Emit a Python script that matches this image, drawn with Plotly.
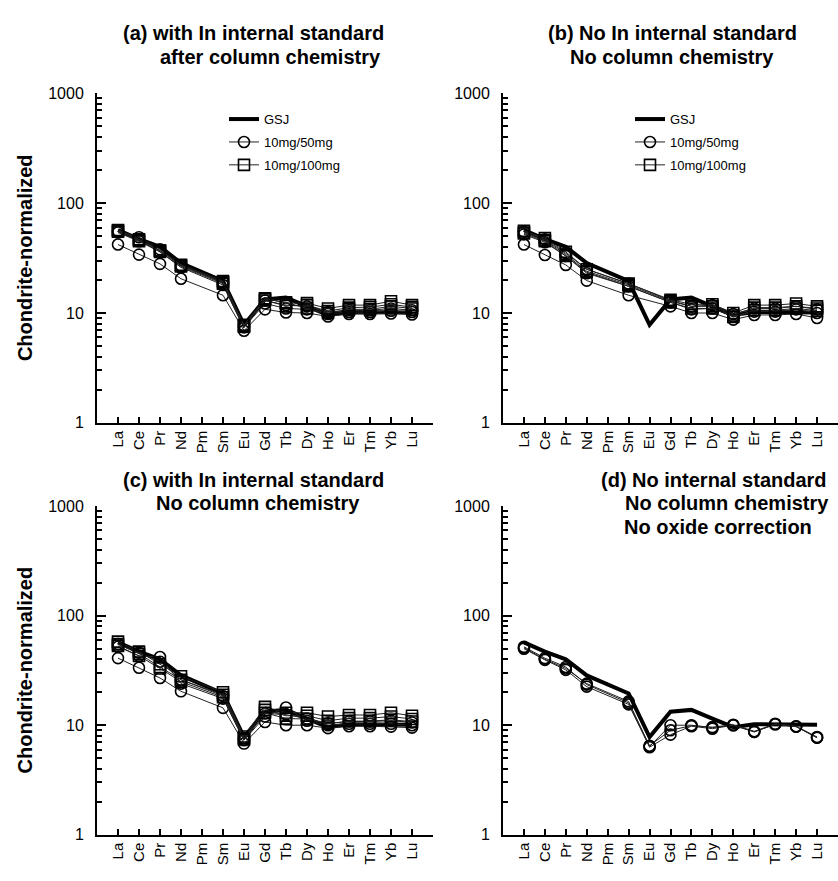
import plotly.graph_objects as go

elements = ["La", "Ce", "Pr", "Nd", "Pm", "Sm", "Eu", "Gd", "Tb", "Dy", "Ho", "Er", "Tm", "Yb", "Lu"]
xpos = list(range(1, 16))

gsj = [57, 47, 40, 28.5, None, 19.5, 7.8, 13.3, 13.8, 11.5, 9.6, 10.2, 10.2, 10.2, 10.1]

a_c1 = [42, 34, 28, 20.5, None, 14.5, 6.9, 10.8, 10.1, 10, 9.3, 9.8, 9.8, 9.9, 9.7]
a_c2 = [54, 45, 36, 26, None, 18, 7.4, 12.2, 11, 10.8, 9.8, 10.2, 10.2, 10.5, 10.2]
a_c3 = [56, 49, 38, 27, None, 19, 7.7, 13, 11.8, 11.5, 10.2, 10.6, 10.6, 11, 10.6]
a_s1 = [57, 47, 37, 27, None, 19, 7.6, 13.6, 12.3, 12.3, 11, 11.8, 11.8, 12.8, 11.8]
a_s2 = [55, 46, 36, 26.5, None, 18.5, 7.5, 13, 11.6, 11.8, 10.4, 11.2, 11.3, 12, 11.3]
a_s3 = [56, 45, 37, 27.5, None, 19.5, 7.8, 13.4, 12.5, 11, 10, 10.8, 10.8, 11.5, 11]

b_c1 = [42, 33.7, 27.4, 19.7, None, 14.5, None, 11.5, 10, 10, 8.7, 9.6, 9.6, 9.8, 9]
b_c2 = [52, 44, 33, 23, None, 17.5, None, 12.5, 10.8, 11, 9.3, 10.3, 10.3, 10.8, 10]
b_c3 = [55, 47, 35, 25, None, 18.5, None, 13, 11.5, 11.8, 9.8, 11, 11, 11.5, 10.8]
b_s1 = [56, 48, 36, 25, None, 18.5, None, 13.2, 12, 12, 10, 11.8, 11.8, 12.2, 11.5]
b_s2 = [54, 46, 34, 24, None, 18, None, 12.8, 11.5, 11.5, 9.5, 11.2, 11.2, 11.5, 11]
b_s3 = [53, 45, 33, 23.5, None, 17.5, None, 12.5, 11, 11, 9.2, 10.6, 10.6, 11, 10.5]

c_c1 = [41, 33.5, 27, 20.4, None, 14.4, 6.8, 10.7, 10, 10, 9.4, 9.8, 9.8, 9.7, 9.5]
c_c2 = [52, 43, 42, 24, None, 17.5, 7.3, 12, 14.5, 11, 10, 10.3, 10.3, 10.3, 10]
c_c3 = [55, 46, 38, 26, None, 18.5, 7.6, 12.8, 12.5, 11.5, 10.4, 10.8, 10.8, 11, 10.6]
c_s1 = [58, 47, 36, 28, None, 20, 7.9, 14.7, 13, 13, 12, 12.4, 12.4, 13, 12.2]
c_s2 = [55, 45, 34, 26, None, 19, 7.6, 13.8, 12.2, 12.2, 11, 11.6, 11.6, 12, 11.4]
c_s3 = [53, 43, 33, 25, None, 18, 7.4, 13, 11.5, 11.4, 10.3, 10.9, 10.9, 11.2, 10.8]

d_c1 = [51, 40, 33, 24, None, 16.5, 6.4, 10, 10, 9.5, 10, 8.7, 10.2, 9.7, 7.7]
d_c2 = [50, 39.5, 32, 22.5, None, 15.5, 6.3, 8.2, 9.8, 9.3, 10, 8.7, 10.2, 9.7, 7.7]
d_c3 = [52, 41, 34, 23.5, None, 16, 6.5, 9, 9.9, 9.6, 10.1, 8.8, 10.3, 9.8, 7.8]

y_ticks = [1, 10, 100, 1000]
y_tick_text = ["1", "10", "100", "1000"]
minor_vals = [m * 10 ** e for e in range(0, 3) for m in range(2, 10)]

W, H = 838, 881
FONT = "Liberation Sans, Arial, sans-serif"

fig = go.Figure()

panels = {
    "a": dict(xa="x", ya="y", circles=[a_c1, a_c2, a_c3], squares=[a_s1, a_s2, a_s3], legend="legend"),
    "b": dict(xa="x2", ya="y2", circles=[b_c1, b_c2, b_c3], squares=[b_s1, b_s2, b_s3], legend="legend2"),
    "c": dict(xa="x3", ya="y3", circles=[c_c1, c_c2, c_c3], squares=[c_s1, c_s2, c_s3], legend=None),
    "d": dict(xa="x4", ya="y4", circles=[d_c1, d_c2, d_c3], squares=[], legend=None),
}

for key, p in panels.items():
    leg = p["legend"]
    fig.add_trace(go.Scatter(
        x=xpos, y=gsj, mode="lines", name="GSJ", connectgaps=True,
        line=dict(color="black", width=4), xaxis=p["xa"], yaxis=p["ya"],
        legendgroup=key + "g", showlegend=leg is not None, legend=leg or "legend"))
    for i, ser in enumerate(p["circles"]):
        fig.add_trace(go.Scatter(
            x=xpos, y=ser, mode="lines+markers", name="10mg/50mg", connectgaps=True,
            line=dict(color="#222", width=1),
            marker=dict(symbol="circle-open", size=11, color="black", line=dict(width=1.6)),
            xaxis=p["xa"], yaxis=p["ya"], legendgroup=key + "c",
            showlegend=(leg is not None and i == 0), legend=leg or "legend"))
    for i, ser in enumerate(p["squares"]):
        fig.add_trace(go.Scatter(
            x=xpos, y=ser, mode="lines+markers", name="10mg/100mg", connectgaps=True,
            line=dict(color="#222", width=1),
            marker=dict(symbol="square-open", size=11, color="black", line=dict(width=1.6)),
            xaxis=p["xa"], yaxis=p["ya"], legendgroup=key + "s",
            showlegend=(leg is not None and i == 0), legend=leg or "legend"))

def px_x(v):
    return v / W

def px_y(v):
    return 1 - v / H

xdom_left = [px_x(97), px_x(433)]
xdom_right = [px_x(503), px_x(838)]
ydom_top = [px_y(423), px_y(87)]
ydom_bot = [px_y(843), px_y(508)]

xcommon = dict(range=[0, 16], tickmode="array", tickvals=xpos, ticktext=elements,
               tickangle=-90, ticks="inside", ticklen=6, tickwidth=2, tickcolor="black",
               showline=True, linewidth=2, linecolor="black", showgrid=False, zeroline=False,
               tickfont=dict(family=FONT, size=15, color="black"))
ycommon = dict(type="log", range=[0, 3], tickmode="array", tickvals=y_ticks, ticktext=y_tick_text,
               ticks="inside", ticklen=9, tickwidth=2, tickcolor="black",
               minor=dict(ticks="inside", ticklen=5, tickwidth=1.5, tickcolor="black",
                          tickmode="array", tickvals=minor_vals, showgrid=False),
               showline=True, linewidth=2, linecolor="black", showgrid=False, zeroline=False,
               ticklabelstandoff=8,
               tickfont=dict(family=FONT, size=16, color="black"))

legcommon = dict(xanchor="left", yanchor="top", bgcolor="rgba(0,0,0,0)",
                 font=dict(family=FONT, size=13), tracegroupgap=3, itemwidth=30)

fig.update_layout(
    width=W, height=H, margin=dict(l=0, r=0, t=0, b=0),
    paper_bgcolor="white", plot_bgcolor="white",
    font=dict(family=FONT, color="black"),
    xaxis=dict(domain=xdom_left, anchor="y", **xcommon),
    yaxis=dict(domain=ydom_top, anchor="x", **ycommon),
    xaxis2=dict(domain=xdom_right, anchor="y2", **xcommon),
    yaxis2=dict(domain=ydom_top, anchor="x2", **ycommon),
    xaxis3=dict(domain=xdom_left, anchor="y3", **xcommon),
    yaxis3=dict(domain=ydom_bot, anchor="x3", **ycommon),
    xaxis4=dict(domain=xdom_right, anchor="y4", **xcommon),
    yaxis4=dict(domain=ydom_bot, anchor="x4", **ycommon),
    legend=dict(x=px_x(224), y=px_y(98), **legcommon),
    legend2=dict(x=px_x(630), y=px_y(98), **legcommon),
)

titles = [
    ("(a) with In internal standard", 253, 25),
    ("after column chemistry", 270, 50),
    ("(b) No In internal standard", 672, 25),
    ("No column chemistry", 672, 50),
    ("(c) with In internal standard", 253, 481),
    ("No column chemistry", 258, 505),
    ("(d) No internal standard", 714, 481),
    ("No column chemistry", 727, 505),
    ("No oxide correction", 718, 529),
]
for txt, cx, cy in titles:
    fig.add_annotation(text=f"<b>{txt}</b>", x=px_x(cx), y=px_y(cy), xref="paper", yref="paper",
                       showarrow=False, xanchor="center", yanchor="middle",
                       font=dict(family=FONT, size=20, color="black"))

for cy in [(87 + 423) / 2, (508 + 843) / 2]:
    fig.add_annotation(text="<b>Chondrite-normalized</b>", x=px_x(25), y=px_y(cy),
                       xref="paper", yref="paper", showarrow=False, textangle=-90,
                       xanchor="center", yanchor="middle",
                       font=dict(family=FONT, size=20, color="black"))

fig.write_html("out.html", config={"displayModeBar": False},
               post_script="document.body.style.margin='0';document.body.style.overflow='hidden';")
